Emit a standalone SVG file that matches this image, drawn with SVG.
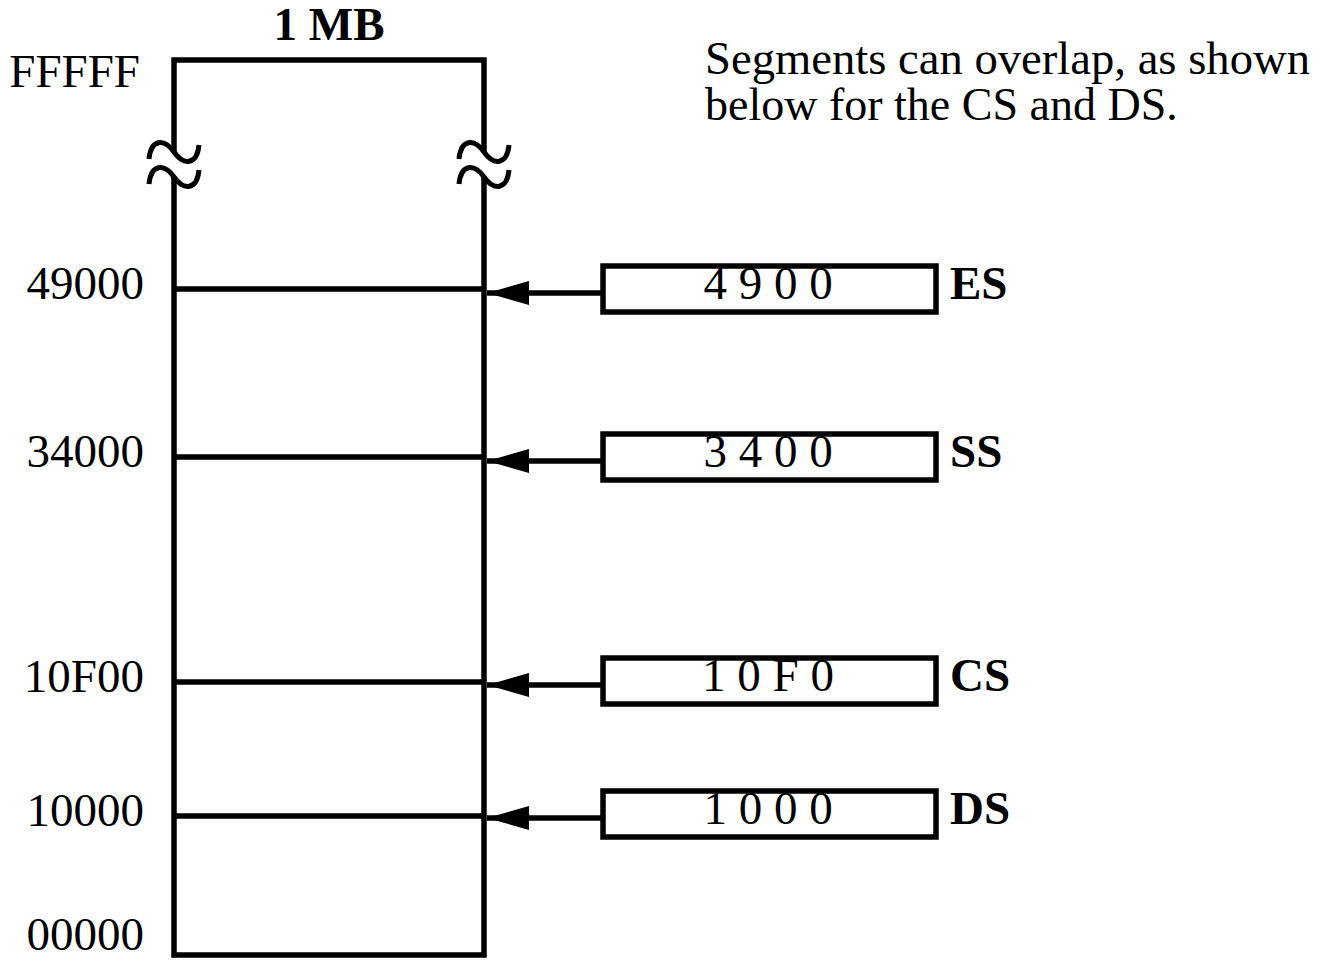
<svg xmlns="http://www.w3.org/2000/svg" width="1327" height="961" viewBox="0 0 1327 961">
<defs>
<style>
.t{font-family:"Liberation Serif","Times New Roman",serif;font-size:47px;fill:#000}
.n{font-size:46px}
.b{font-weight:bold}
.ln{stroke:#000;stroke-width:5.5;fill:none}
.box{stroke:#000;stroke-width:5.5;fill:#fff}
.td{stroke:#000;stroke-width:5;fill:none}
</style>
<marker id="ah" markerUnits="userSpaceOnUse" markerWidth="44" markerHeight="26" refX="42" refY="12" orient="auto">
<path d="M0,0 L42,12 L0,24 Z" fill="#000"/>
</marker>
</defs>
<rect width="1327" height="961" fill="#fff"/>
<g id="memory">
<path class="ln" d="M174,152 V60 H484 V152"/>
<path class="ln" d="M174,177 V955 H484 V177"/>
<path class="ln" d="M174,289 H484 M174,457 H484 M174,682 H484 M174,816 H484"/>
<path class="td" d="M149,159 C151,139 164,138 174,152 C184,166 197,165 199,145"/>
<path class="td" d="M149,184 C151,164 164,163 174,177 C184,191 197,190 199,170"/>
<path class="td" d="M459,159 C461,139 474,138 484,152 C494,166 507,165 509,145"/>
<path class="td" d="M459,184 C461,164 474,163 484,177 C494,191 507,190 509,170"/>
<text class="t b" x="329" y="40" text-anchor="middle">1 MB</text>
<text class="t" x="140" y="87" text-anchor="end">FFFFF</text>
<text class="t" x="144" y="299" text-anchor="end">49000</text>
<text class="t" x="144" y="467" text-anchor="end">34000</text>
<text class="t" x="144" y="692" text-anchor="end">10F00</text>
<text class="t" x="144" y="826" text-anchor="end">10000</text>
<text class="t" x="144" y="950" text-anchor="end">00000</text>
</g>
<g id="note">
<text class="t n" x="705" y="74" textLength="605" lengthAdjust="spacingAndGlyphs">Segments can overlap, as shown</text>
<text class="t n" x="705" y="120">below for the CS and DS.</text>
</g>
<g id="connectors">
<line class="ln" x1="603" y1="293" x2="487" y2="293" marker-end="url(#ah)"/>
<line class="ln" x1="603" y1="461" x2="487" y2="461" marker-end="url(#ah)"/>
<line class="ln" x1="603" y1="685" x2="487" y2="685" marker-end="url(#ah)"/>
<line class="ln" x1="603" y1="818" x2="487" y2="818" marker-end="url(#ah)"/>
</g>
<g id="es">
<rect class="box" x="603" y="266" width="333" height="46"/>
<text class="t" x="768" y="299" text-anchor="middle">4 9 0 0</text>
<text class="t b" x="950" y="299">ES</text>
</g>
<g id="ss">
<rect class="box" x="603" y="434" width="333" height="46"/>
<text class="t" x="768" y="467" text-anchor="middle">3 4 0 0</text>
<text class="t b" x="950" y="467">SS</text>
</g>
<g id="cs">
<rect class="box" x="603" y="658" width="333" height="46"/>
<text class="t" x="768" y="691" text-anchor="middle">1 0 F 0</text>
<text class="t b" x="950" y="691">CS</text>
</g>
<g id="ds">
<rect class="box" x="603" y="791" width="333" height="46"/>
<text class="t" x="768" y="824" text-anchor="middle">1 0 0 0</text>
<text class="t b" x="950" y="824">DS</text>
</g>
</svg>
